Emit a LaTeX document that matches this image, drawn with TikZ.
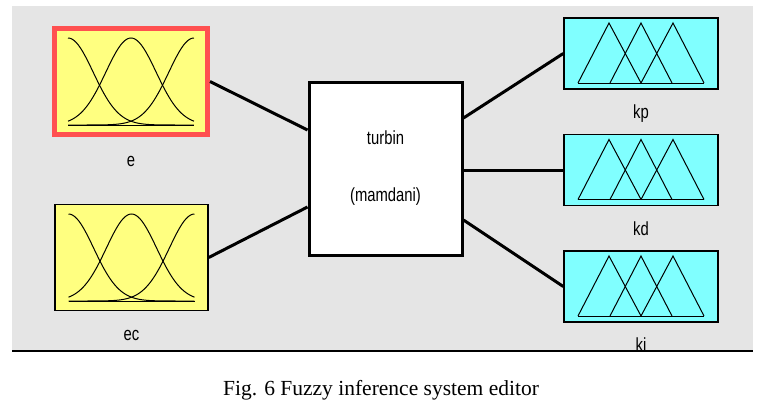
\documentclass[tikz,border=0pt]{standalone}
\usepackage{fontspec}
\setmainfont{Liberation Serif}
\newfontfamily\guifont[FakeStretch=0.78]{Liberation Sans}
\usepackage{tikz}
\usetikzlibrary{positioning}
\definecolor{FisGrey}{RGB}{229,229,229}
\definecolor{FisYellow}{RGB}{255,255,128}
\definecolor{FisCyan}{RGB}{128,255,255}
\definecolor{FisRed}{RGB}{255,80,80}

\newcommand{\gaussmfs}[1]{%
  \begin{scope}[shift={(#1.center)}]
    \foreach \m in {-1,0,1}
      \draw[mfline] plot[domain=-1:1, samples=61, smooth] ({63*\x}, {43.5-87*exp(-((\x-\m)^2)/0.32)});
    \draw[mfline] (-63,43.5) -- (63,43.5);
  \end{scope}}
\newcommand{\trimfs}[1]{%
  \begin{scope}[shift={(#1.center)}]
    \draw[mfline] (-63,29.5) -- (-32,-30.5) -- (0,29.5);
    \draw[mfline] (-31,29.5) -- (0,-30.5) -- (31,29.5);
    \draw[mfline] (0,29.5) -- (32,-30.5) -- (63,29.5);
    \draw[mfline] (-63,29.5) -- (63,29.5);
  \end{scope}}

\begin{document}
\begin{tikzpicture}[
    x=1pt, y=-1pt,
    inbox/.style={rectangle, draw=black, line width=1.5pt, fill=FisYellow, minimum width=153pt, minimum height=106pt, inner sep=0pt},
    outbox/.style={rectangle, draw=black, line width=1.5pt, fill=FisCyan, minimum width=154pt, minimum height=71pt, inner sep=0pt},
    rulebox/.style={rectangle, draw=black, line width=3pt, fill=white, minimum width=153pt, minimum height=173pt, inner sep=0pt, align=center, font=\guifont\fontsize{19}{57}\selectfont},
    fislabel/.style={inner sep=0pt, text height=13.5pt, text depth=4pt, font=\guifont\fontsize{19}{22}\selectfont},
    mfline/.style={line width=1pt, black},
    link/.style={line width=3pt, black}
  ]
    \fill[white] (0,0) rectangle (764,407);
    \fill[FisGrey] (12,6) rectangle (753,350);

    \node[inbox, draw=FisRed, line width=5pt] (e) at (131,81.5) {};
    \node[inbox] (ec) at (131.5,257.5) {};
    \node[rulebox] (turbin) at (385.5,168.5) {turbin\\(mamdani)};
    \node[outbox] (kp) at (641,53.5) {};
    \node[outbox, below=44pt of kp] (kd) {};
    \node[outbox, below=44pt of kd] (ki) {};

    \gaussmfs{e}
    \gaussmfs{ec}
    \trimfs{kp}
    \trimfs{kd}
    \trimfs{ki}

    \node[fislabel, below=15.5pt of e] (elabel) {e};
    \node[fislabel, below=15.5pt of ec] (eclabel) {ec};
    \node[fislabel, below=15.5pt of kp] (kplabel) {kp};
    \node[fislabel, below=15.5pt of kd] (kdlabel) {kd};
    \node[fislabel, below=15.5pt of ki] (kilabel) {ki};

    \draw[link] (e.east) -- ([yshift=38.5pt]turbin.west);
    \draw[link] (ec.east) -- ([yshift=-38.5pt]turbin.west);
    \draw[link] ([yshift=50.5pt]turbin.east) -- (kp.west);
    \draw[link] (turbin.east |- kd.west) -- (kd.west);
    \draw[link] ([yshift=-51.5pt]turbin.east) -- (ki.west);

    \draw[line width=2pt] (12,350.5) -- (753,350.5);

    \node[font=\fontsize{21.5}{26}\selectfont] (caption) at (381,390) {Fig. 6 Fuzzy inference system editor};
  \end{tikzpicture}
\end{document}
